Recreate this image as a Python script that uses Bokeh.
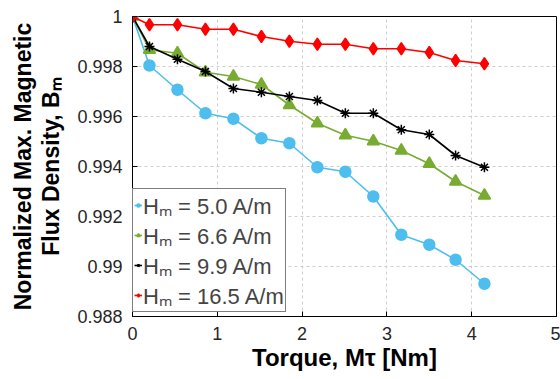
from bokeh.plotting import figure
from bokeh.models import Range1d, FixedTicker, Legend, LegendItem
from bokeh.embed import file_html
from bokeh.resources import INLINE

torque = [0, 0.2, 0.53, 0.86, 1.19, 1.52, 1.85, 2.18, 2.51, 2.84, 3.17, 3.5, 3.81, 4.15]
b_5_0 = [1.0, 0.99804, 0.99707, 0.99613, 0.99591, 0.99513, 0.99493, 0.99397, 0.99379, 0.99280, 0.99127, 0.99087, 0.99027, 0.98931]
b_6_6 = [1.0, 0.99867, 0.99853, 0.99777, 0.99760, 0.99728, 0.99646, 0.99573, 0.99525, 0.99501, 0.99464, 0.99411, 0.99340, 0.99284]
b_9_9 = [1.0, 0.99880, 0.99829, 0.99780, 0.99712, 0.99697, 0.99680, 0.99664, 0.99613, 0.99613, 0.99547, 0.99528, 0.99444, 0.99397]
b_16_5 = [1.0, 0.99967, 0.99967, 0.99949, 0.99949, 0.99920, 0.99901, 0.99889, 0.99889, 0.99871, 0.99871, 0.99856, 0.99824, 0.99811]
series_labels = ["H\u2098 = 5.0 A/m", "H\u2098 = 6.6 A/m", "H\u2098 = 9.9 A/m", "H\u2098 = 16.5 A/m"]
x_ticks = [0, 1, 2, 3, 4, 5]
y_ticks = [0.988, 0.990, 0.992, 0.994, 0.996, 0.998, 1.0]
y_tick_labels = ["0.988", "0.99", "0.992", "0.994", "0.996", "0.998", "1"]

FONT = "Liberation Sans"

p = figure(width=560, height=379, output_backend="svg", toolbar_location=None,
           x_range=Range1d(0, 5), y_range=Range1d(0.988, 1.0),
           min_border_left=132, min_border_right=4, min_border_top=16, min_border_bottom=63)
p.background_fill_color = "white"
p.border_fill_color = "white"
p.outline_line_color = "black"
p.outline_line_width = 1

for ax in (p.xaxis[0], p.yaxis[0]):
    ax.major_tick_in = 5
    ax.major_tick_out = 0
    ax.minor_tick_in = 0
    ax.minor_tick_out = 0
    ax.axis_line_color = "black"
    ax.major_label_text_font = FONT
    ax.major_label_text_font_size = "18px"
    ax.major_label_text_color = "#262626"
    ax.axis_label_text_font = FONT
    ax.axis_label_text_font_style = "bold"
    ax.axis_label_text_font_size = "23px"
    ax.axis_label_text_color = "black"
p.xaxis.ticker = FixedTicker(ticks=x_ticks)
p.yaxis.ticker = FixedTicker(ticks=y_ticks)
p.yaxis.major_label_overrides = {t: l for t, l in zip(y_ticks, y_tick_labels)}
p.xaxis.major_label_standoff = 10
p.yaxis.major_label_standoff = 10
p.yaxis.axis_label = "Normalized Max. Magnetic\nFlux Density, B\u2098"
p.yaxis.axis_label_standoff = 10
p.yaxis.axis_label_text_line_height = 1.1
p.xaxis.axis_label = "Torque, M\u03c4 [Nm]"
p.xaxis.axis_label_text_font_size = "24px"
p.xaxis.axis_label_standoff = 1

p.grid.grid_line_color = "#cfcfcf"
p.grid.grid_line_dash = "3 3"
p.grid.grid_line_width = 1

colors = ["#4DBEEE", "#77AC30", "#000000", "#FF0000"]
markers = ["circle", "triangle", "asterisk", "diamond"]
sizes = [11, 12, 10, 12]
series = [b_5_0, b_6_6, b_9_9, b_16_5]
items = []
for ys, c, m, s, lab in zip(series, colors, markers, sizes, series_labels):
    ln = p.line(torque, ys, line_color=c, line_width=1.6)
    sc = p.scatter(torque, ys, marker=m, size=s, fill_color=c, line_color=c, line_width=1.5)
    items.append(LegendItem(label=lab, renderers=[ln, sc]))

legend = Legend(items=items, location=(0, 4))
legend.label_text_font = FONT
legend.label_text_font_size = "22px"
legend.label_height = 20
legend.glyph_width = 8
legend.glyph_height = 20
legend.label_standoff = 1
legend.spacing = 0
legend.padding = 1
legend.margin = 0
legend.border_line_color = "black"
legend.border_line_width = 1
legend.background_fill_alpha = 1
p.add_layout(legend, "center")

open("out.html", "w").write(file_html(p, INLINE))
